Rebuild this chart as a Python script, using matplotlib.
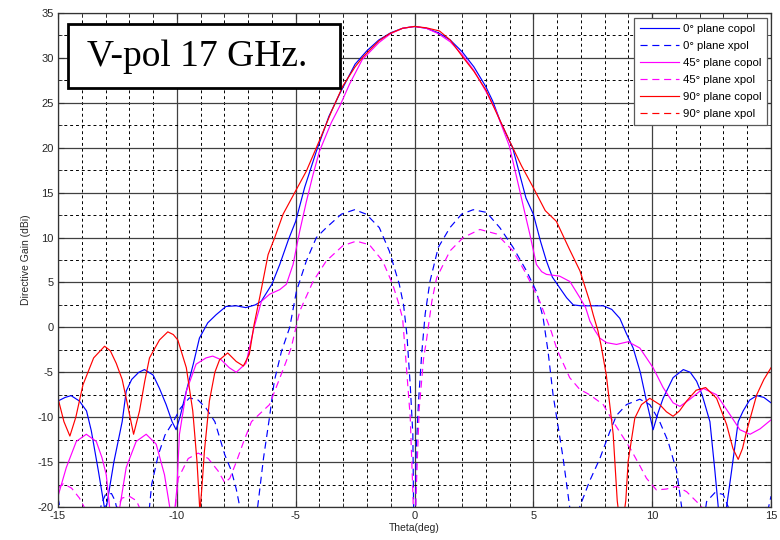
import matplotlib
matplotlib.use("Agg")
import matplotlib.pyplot as plt
from matplotlib.patches import Rectangle
from matplotlib.ticker import MultipleLocator

# ---------------- data ----------------
# 0 deg plane copol (blue solid)
th_0c = [-15, -14.7, -14.45, -14.1, -13.8, -13.6, -13.3, -13.05, -12.95, -12.65, -12.3,
         -12.13, -11.9, -11.6, -11.36, -11.0, -10.73, -10.45, -10.2, -10.03, -9.85, -9.6,
         -9.3, -9.05, -8.7, -8.35, -7.93, -7.5, -7.1, -6.7, -6.45, -6.0, -5.67, -5.3, -5.0,
         -4.62, -4.13, -3.6, -3.15, -2.5, -2.0, -1.5, -1.0, -0.5, 0, 0.5, 1.0, 1.5, 2.0, 2.5,
         3.0, 3.29, 3.6, 4.13, 4.69, 5.0, 5.3, 5.55, 5.8, 6.11, 6.4, 6.68, 7.0, 7.5, 7.94,
         8.3, 8.64, 8.9, 9.2, 9.5, 9.76, 10.04, 10.25, 10.46, 10.88, 11.31, 11.6, 11.87,
         12.1, 12.43, 12.64, 12.78, 12.95, 13.13, 13.34, 13.62, 13.83, 14.1, 14.4, 14.7, 15.0]
g_0c = [-8.2, -7.8, -7.6, -8.2, -9.3, -11.5, -16.0, -20.0, -19.8, -15.0, -10.5,
        -7.1, -5.8, -5.0, -4.7, -5.3, -6.8, -8.6, -10.5, -11.4, -9.8, -7.1,
        -4.0, -1.2, 0.5, 1.4, 2.33, 2.4, 2.2, 2.5, 2.9, 4.8, 7.0, 9.8, 11.8,
        15.6, 19.6, 23.5, 26.0, 29.3, 30.8, 32.0, 32.8, 33.3, 33.5, 33.3, 32.8, 32.0, 30.7, 29.0,
        26.8, 25.2, 23.0, 20.0, 14.4, 12.6, 9.6, 7.4, 5.6, 4.4, 3.3, 2.5, 2.4, 2.4, 2.4,
        2.0, 1.0, -0.6, -2.3, -5.0, -8.2, -11.4, -9.5, -7.9, -5.6, -4.7, -5.0, -6.0,
        -7.5, -10.5, -16.0, -20.0, -22.0, -20.0, -16.0, -10.5, -9.3, -8.1, -7.6, -7.8, -8.4]

# 0 deg plane xpol (blue dashed)
th_0x = [-15, -14.85, -13.3, -13.15, -13.0, -12.75, -12.6, -12.45, -11.3, -11.15, -11.06,
         -10.78, -10.5, -10.15, -9.85, -9.47, -9.1, -8.77, -8.4, -7.98, -7.7, -7.5, -7.35,
         -7.2, -6.7, -6.6, -6.35, -6.1, -5.9, -5.6, -5.25, -4.97, -4.55, -4.13, -3.71, -3.08,
         -2.52, -2.03, -1.48, -1.06, -0.64, -0.46, -0.32, -0.18, -0.07, 0.0, 0.07, 0.17, 0.31,
         0.45, 0.65, 1.0, 1.49, 1.98, 2.47, 3.03, 3.59, 4.15, 4.71, 5.13, 5.41, 5.62, 5.83,
         6.25, 6.53, 6.7, 6.85, 6.95, 7.37, 7.8, 8.22, 8.5, 8.92, 9.48, 9.9, 10.3, 10.67,
         11.03, 11.24, 11.4, 12.15, 12.29, 12.64, 12.99, 13.2, 13.35, 14.75, 14.9, 15.0]
g_0x = [-19.0, -21.0, -21.0, -19.5, -18.6, -18.5, -19.3, -21.0, -21.0, -20.0, -17.5,
        -14.2, -12.0, -10.5, -9.0, -7.85, -8.1, -9.0, -10.5, -14.2, -16.0, -18.0, -20.0,
        -22.0, -22.0, -20.0, -14.5, -10.0, -6.0, -2.7, 0.0, 4.0, 7.4, 10.0, 11.1, 12.6,
        13.1, 12.6, 11.1, 8.5, 4.8, 2.5, -0.8, -6.4, -11.9, -30.0, -13.8, -8.2, -2.7,
        1.5, 5.1, 8.9, 11.1, 12.6, 13.1, 12.8, 11.1, 8.9, 6.3, 4.0, 1.1, -2.7, -7.5,
        -14.5, -20.0, -22.0, -22.0, -20.0, -17.1, -14.6, -11.6, -9.8, -8.6, -8.0, -8.6, -10.4, -12.7,
        -16.0, -20.0, -22.0, -22.0, -19.4, -18.4, -18.6, -20.0, -22.0, -22.0, -20.0, -18.8]

# 45 deg plane copol (magenta solid)
th_45c = [-15, -14.65, -14.23, -13.81, -13.39, -13.15, -12.97, -12.83, -12.6, -12.4, -12.13,
          -11.71, -11.29, -10.87, -10.52, -10.3, -10.15, -10.0, -9.89, -9.6, -9.19, -8.77,
          -8.49, -8.14, -7.79, -7.5, -7.09, -6.75, -6.44, -6.09, -5.67, -5.39, -5.11, -4.83,
          -4.55, -4.27, -4.0, -3.5, -3.15, -2.73, -2.2, -1.5, -1.0, -0.5, 0, 0.5, 1.0, 1.5,
          2.0, 2.5, 3.0, 3.43, 3.99, 4.43, 4.62, 4.85, 5.13, 5.35, 5.55, 6.11, 6.54, 6.96,
          7.2, 7.38, 7.58, 7.8, 8.08, 8.5, 8.99, 9.48, 10.04, 10.46, 10.88, 11.17, 11.59,
          12.15, 12.71, 13.27, 13.69, 14.12, 14.54, 15.0]
g_45c = [-18.8, -15.6, -12.7, -11.9, -12.7, -14.5, -16.4, -20.0, -23.0, -20.0, -15.6,
         -12.7, -11.9, -13.0, -16.4, -20.0, -22.0, -18.0, -11.9, -7.1, -4.1, -3.4,
         -3.2, -3.6, -4.5, -5.0, -4.0, 0.0, 2.9, 3.7, 4.2, 4.8, 7.0, 10.7,
         14.0, 17.0, 19.6, 22.8, 24.6, 27.1, 29.8, 31.7, 32.7, 33.3, 33.5, 33.3, 32.7, 31.8,
         30.4, 28.6, 26.3, 24.1, 20.2, 15.2, 13.0, 10.4, 7.0, 6.2, 5.9, 5.7, 5.1, 3.3,
         2.2, 0.7, -0.3, -1.2, -1.7, -1.9, -1.6, -2.3, -4.5, -6.7, -8.4, -8.8, -8.0,
         -6.8, -7.5, -9.7, -11.4, -11.9, -11.3, -10.3]

# 45 deg plane xpol (magenta dashed)
th_45x = [-15, -14.78, -14.43, -14.1, -13.9, -13.7, -12.65, -12.5, -12.3, -12.0, -11.7,
          -11.5, -10.5, -10.1, -9.94, -9.52, -9.1, -8.68, -8.26, -7.98, -7.77, -7.5, -7.2,
          -6.86, -6.5, -6.1, -5.69, -5.4, -5.18, -4.83, -4.27, -3.71, -3.01, -2.45, -1.9,
          -1.34, -0.92, -0.67, -0.5, -0.39, -0.18, -0.06, 0.0, 0.06, 0.2, 0.38, 0.5, 0.73,
          0.93, 1.49, 2.05, 2.75, 3.45, 4.15, 4.71, 5.27, 5.76, 6.0, 6.53, 6.95, 7.37, 7.94,
          8.36, 9.06, 9.48, 9.76, 10.18, 10.6, 11.03, 11.45, 11.87, 12.08, 12.3, 15.0]
g_45x = [-17.9, -17.4, -17.9, -19.0, -20.0, -22.0, -22.0, -20.0, -19.0, -18.8, -19.3,
         -20.5, -22.0, -21.0, -16.8, -14.6, -14.0, -14.6, -16.0, -17.3, -16.8, -15.0, -12.8,
         -10.5, -9.6, -8.6, -5.8, -3.8, -2.2, 1.8, 5.1, 7.4, 9.1, 9.6, 9.2,
         7.4, 4.8, 2.7, 1.0, -2.7, -10.0, -19.0, -30.0, -19.0, -9.0, -3.5, -1.5, 2.9,
         5.5, 8.5, 10.0, 10.9, 10.4, 8.5, 5.9, 2.9, -0.5, -2.5, -5.6, -6.9, -7.5, -8.6,
         -10.5, -13.4, -15.4, -16.8, -18.1, -18.0, -17.7, -18.3, -19.4, -20.0, -22.0, -22.0]

# 90 deg plane copol (red solid)
th_90c = [-15, -14.75, -14.5, -14.25, -13.95, -13.5, -13.04, -12.8, -12.55, -12.3, -12.13,
          -11.82, -11.57, -11.35, -11.15, -10.73, -10.38, -10.15, -9.96, -9.6, -9.33, -9.15,
          -9.03, -8.95, -8.84, -8.63, -8.4, -8.2, -7.86, -7.5, -7.2, -6.95, -6.75, -6.5,
          -6.16, -5.88, -5.53, -5.0, -4.55, -4.0, -3.5, -3.01, -2.5, -2.17, -1.5, -1.05,
          -0.5, 0, 0.5, 1.05, 1.5, 2.03, 2.5, 3.01, 3.5, 3.99, 4.5, 4.99, 5.5, 5.97, 6.5,
          6.96, 7.37, 7.52, 7.72, 7.85, 8.07, 8.36, 8.53, 8.7, 8.89, 8.99, 9.27, 9.55, 9.9,
          10.32, 10.6, 10.88, 11.15, 11.45, 11.85, 12.25, 12.71, 13.13, 13.4, 13.62, 13.8,
          13.97, 14.4, 14.7, 15.0]
g_90c = [-7.9, -10.5, -12.1, -10.0, -6.4, -3.4, -2.1, -2.6, -4.0, -5.8, -7.9,
         -11.9, -9.3, -6.0, -3.4, -1.4, -0.5, -0.8, -1.4, -4.5, -9.3, -15.0,
         -20.5, -18.0, -13.8, -8.2, -5.0, -3.6, -2.85, -3.8, -4.3, -3.0, 0.3, 3.5,
         8.1, 10.0, 12.6, 15.2, 17.4, 20.8, 24.0, 26.9, 29.0, 30.1, 31.9, 32.7,
         33.3, 33.5, 33.35, 33.0, 32.0, 30.1, 28.5, 26.4, 23.6, 20.8, 18.0, 15.6, 13.0, 11.8, 8.8,
         6.3, 2.9, 1.4, -0.4, -2.0, -5.3, -11.9, -19.3, -23.0, -19.3, -14.9, -10.1, -8.6, -7.9,
         -8.6, -9.4, -9.9, -9.3, -8.2, -7.0, -6.7, -7.9, -10.8, -13.5, -14.7, -13.5,
         -11.6, -7.5, -5.8, -4.5]

# 90 deg plane xpol: entirely below the -20 dBi floor of the plot (not visible)
th_90x = []
g_90x = []

x_ticks = [-15, -10, -5, 0, 5, 10, 15]
y_ticks = [-20, -15, -10, -5, 0, 5, 10, 15, 20, 25, 30, 35]

# ---------------- figure ----------------
plt.rcParams['font.family'] = ['Liberation Sans', 'DejaVu Sans']
plt.rcParams['axes.unicode_minus'] = False
W, H = 780, 540
fig = plt.figure(figsize=(W / 100, H / 100), dpi=100)
ax = fig.add_axes([58 / W, 1 - 507 / H, (771 - 58) / W, (507 - 13) / H])

dash = (6, 4)
lw = 0.85
ax.plot(th_0c, g_0c, color='#0000ff', lw=lw, label='0° plane copol')
ax.plot(th_0x, g_0x, color='#0000ff', lw=lw, dashes=dash, label='0° plane xpol')
ax.plot(th_45c, g_45c, color='#ff00ff', lw=lw, label='45° plane copol')
ax.plot(th_45x, g_45x, color='#ff00ff', lw=lw, dashes=dash, label='45° plane xpol')
ax.plot(th_90c, g_90c, color='#ff0000', lw=lw, label='90° plane copol')
ax.plot(th_90x, g_90x, color='#ff0000', lw=lw, dashes=dash, label='90° plane xpol')

ax.set_xlim(-15, 15)
ax.set_ylim(-20, 35)
ax.set_xticks(x_ticks)
ax.set_yticks(y_ticks)
ax.xaxis.set_minor_locator(MultipleLocator(1))
ax.yaxis.set_minor_locator(MultipleLocator(2.5))
ax.grid(which='minor', color='k', lw=0.7, linestyle=(0, (3, 3)))
ax.grid(which='major', color='0.25', lw=0.9, linestyle='-')
ax.set_axisbelow(True)
ax.tick_params(which='both', direction='in', top=True, right=True, labelsize=8,
               colors='0.2', labelcolor='0.15')
ax.tick_params(which='major', length=4, pad=3)
ax.tick_params(which='minor', length=3)
for s in ax.spines.values():
    s.set_color('0.2')
    s.set_linewidth(0.9)

ax.set_xlabel('Theta(deg)', fontsize=7.5, labelpad=1, color='0.15')
ax.set_ylabel('Directive Gain (dBi)', fontsize=7.5, labelpad=5, color='0.15')

leg = ax.legend(loc='upper right', bbox_to_anchor=(1 - 4 / 713, 1 - 5 / 494),
                borderaxespad=0, fontsize=8.2, handlelength=3.5, handletextpad=0.3,
                labelspacing=0.62, borderpad=0.5, fancybox=False, framealpha=1)
leg.get_frame().set_edgecolor('0.35')
leg.get_frame().set_linewidth(0.9)

# title box
rect = Rectangle((68 / W, 1 - 88 / H), (340 - 68) / W, (88 - 24) / H,
                 transform=fig.transFigure, facecolor='white', edgecolor='black',
                 lw=2, zorder=10)
fig.add_artist(rect)
fig.text(197 / W, 1 - 57 / H, 'V-pol 17 GHz.', fontsize=27, family='Liberation Serif',
         ha='center', va='center', zorder=11)

fig.savefig('out.png', dpi=100)
